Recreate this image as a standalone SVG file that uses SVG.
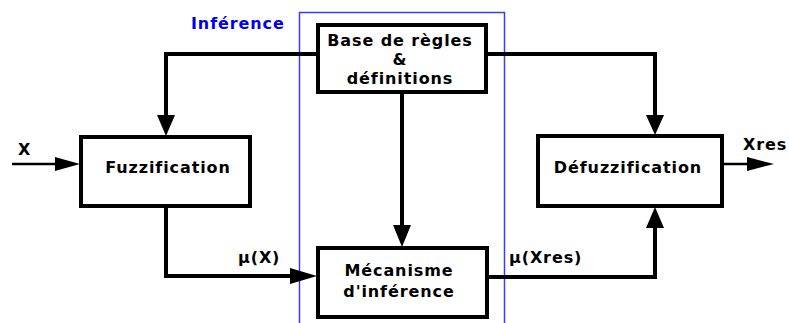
<svg xmlns="http://www.w3.org/2000/svg" width="789" height="323" viewBox="0 0 789 323">
  <style>
    .box { fill: #ffffff; stroke: #000000; stroke-width: 4; }
    .lbl { font-family: "DejaVu Sans", Verdana, sans-serif; font-weight: bold; font-size: 16px; letter-spacing: 0.9px; fill: #000000; }
    .wire { fill: none; stroke: #000000; stroke-width: 4; }
    .thin { fill: none; stroke: #000000; stroke-width: 2.5; }
    .head { fill: #000000; }
  </style>
  <rect width="789" height="323" fill="#ffffff"/>

  <!-- inference zone -->
  <g id="zone-inference">
    <rect x="299.5" y="12.5" width="205" height="320" fill="none" stroke="#3b3bff" stroke-width="1.5"/>
    <text x="191" y="29" class="lbl" style="fill:#0000f0">Inférence</text>
  </g>

  <!-- connectors -->
  <g id="connectors">
    <!-- rule base to fuzzification -->
    <polyline class="wire" points="318,54 166,54 166,118"/>
    <polygon class="head" points="157,115 175,115 166,136"/>
    <!-- rule base to defuzzification -->
    <polyline class="wire" points="486,54 655,54 655,118"/>
    <polygon class="head" points="646,115 664,115 655,135"/>
    <!-- rule base to inference engine -->
    <line class="wire" x1="402" y1="93" x2="402" y2="228"/>
    <polygon class="head" points="393,225 411,225 402,247"/>
    <!-- fuzzification to inference engine -->
    <polyline class="wire" points="166,207 166,276 294,276"/>
    <polygon class="head" points="290,268 290,284 317,276"/>
    <!-- inference engine to defuzzification -->
    <polyline class="wire" points="487,277 655,277 655,225"/>
    <polygon class="head" points="646,228 664,228 655,207"/>
    <!-- input X -->
    <line class="thin" x1="12" y1="164" x2="60" y2="164"/>
    <polygon class="head" points="55,157 55,171 80,164"/>
    <!-- output Xres -->
    <line class="thin" x1="723" y1="164" x2="752" y2="164"/>
    <polygon class="head" points="747,157 747,171 774,164"/>
  </g>

  <g id="node-base">
    <rect class="box" x="318" y="25" width="168" height="67"/>
    <text class="lbl" text-anchor="middle" x="400" y="46">Base de règles</text>
    <text class="lbl" text-anchor="middle" x="400" y="65">&amp;</text>
    <text class="lbl" text-anchor="middle" x="400" y="84">définitions</text>
  </g>

  <g id="node-fuzzification">
    <rect class="box" x="81" y="137" width="169" height="69"/>
    <text class="lbl" text-anchor="middle" x="168" y="173">Fuzzification</text>
  </g>

  <g id="node-mecanisme">
    <rect class="box" x="318" y="248" width="169" height="69"/>
    <text class="lbl" text-anchor="middle" x="399" y="276">Mécanisme</text>
    <text class="lbl" text-anchor="middle" x="399" y="297">d'inférence</text>
  </g>

  <g id="node-defuzzification">
    <rect class="box" x="538" y="136" width="184" height="70"/>
    <text class="lbl" text-anchor="middle" x="628" y="173">Défuzzification</text>
  </g>

  <!-- signal labels -->
  <g id="labels">
    <text class="lbl" x="18" y="155">X</text>
    <text class="lbl" x="743" y="150">Xres</text>
    <text class="lbl" x="238" y="263">μ(X)</text>
    <text class="lbl" x="509" y="263">μ(Xres)</text>
  </g>
</svg>
